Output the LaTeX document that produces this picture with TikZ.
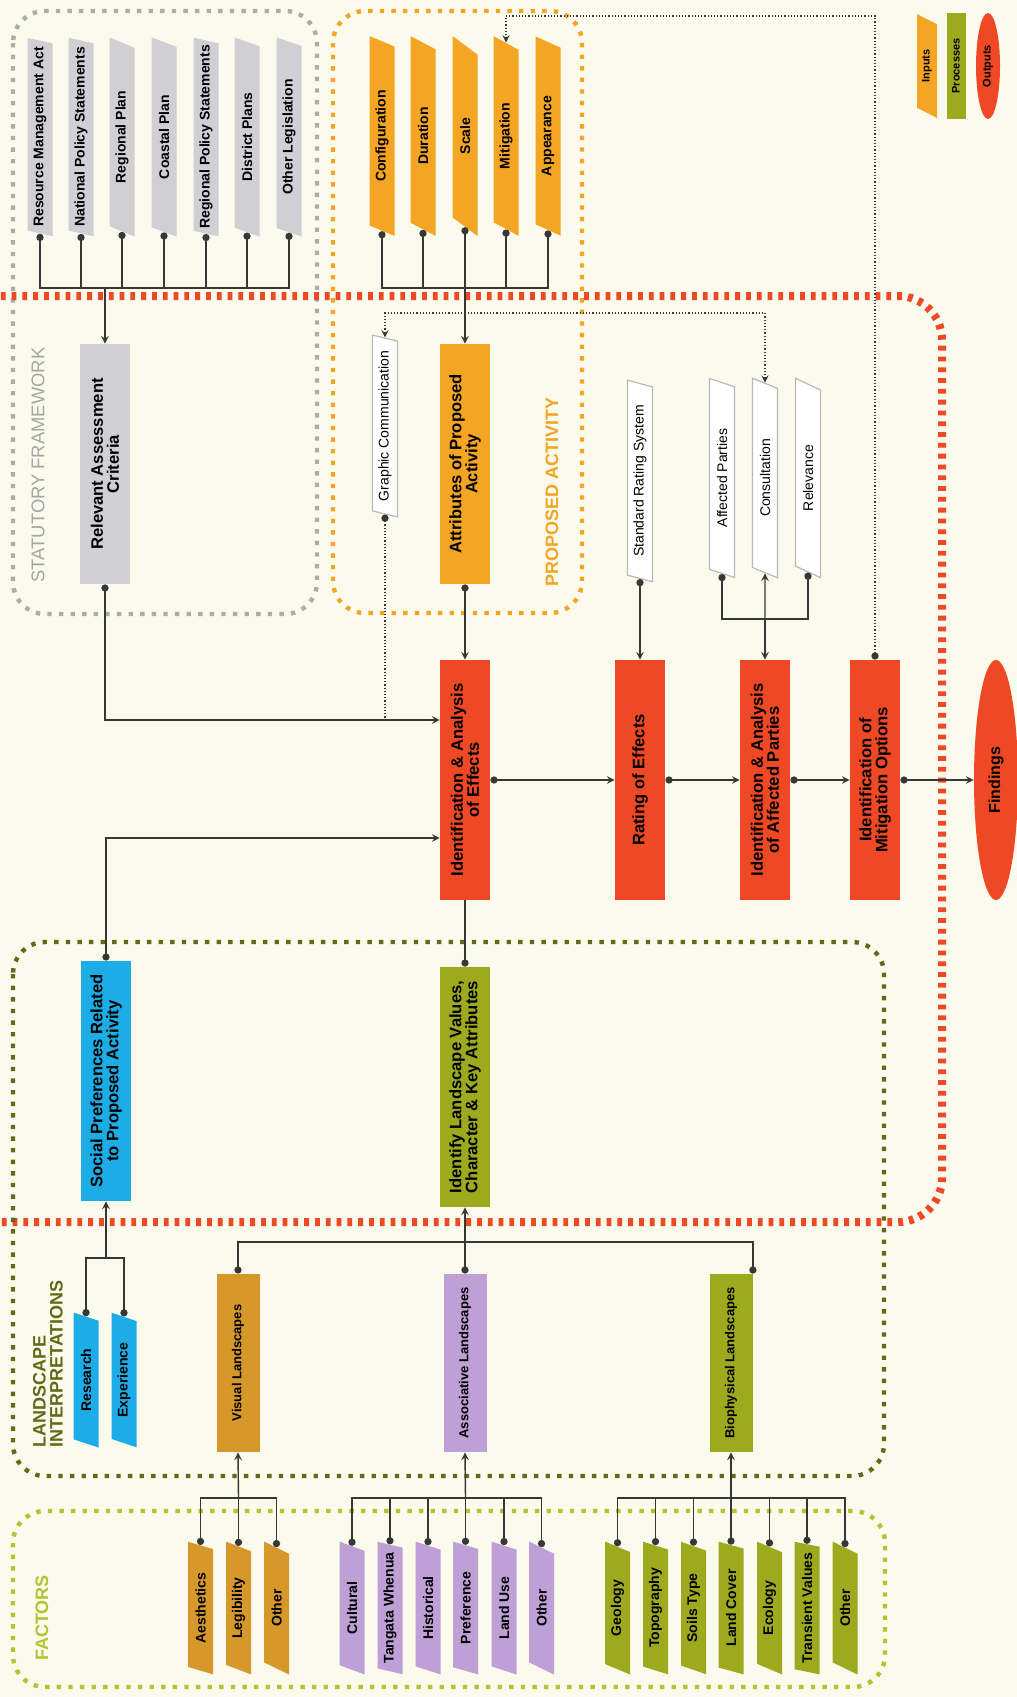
\documentclass[tikz,border=0pt]{standalone}
\usepackage{fontspec}
\setmainfont{Liberation Sans}
\usetikzlibrary{shapes.geometric,arrows.meta}
\definecolor{bgcream}{RGB}{250,250,237}
\definecolor{inorange}{RGB}{243,165,35}
\definecolor{procred}{RGB}{238,72,36}
\definecolor{sgray}{RGB}{208,208,212}
\definecolor{dotgray}{RGB}{172,172,176}
\definecolor{labgray}{RGB}{165,165,165}
\definecolor{skyblue}{RGB}{28,172,230}
\definecolor{olivegreen}{RGB}{158,170,30}
\definecolor{ochre}{RGB}{214,152,42}
\definecolor{lilac}{RGB}{190,160,214}
\definecolor{darkolive}{RGB}{100,105,25}
\definecolor{ygreen}{RGB}{180,195,50}
\definecolor{linegray}{RGB}{55,55,55}
\definecolor{outgray}{RGB}{185,185,185}

\begin{document}
\begin{tikzpicture}
[
x=0.5pt,y=-0.5pt,
inbox/.style={trapezium,trapezium left angle=72,trapezium right angle=108,trapezium stretches=true,
              rotate=90,minimum width=100pt,minimum height=12.5pt,inner sep=1pt,fill=#1,
              font=\fontsize{7}{8}\selectfont\bfseries},
textin/.style={inbox=white,draw=outgray,line width=0.6pt,font=\fontsize{7}{8}\selectfont},
procbox/.style={rectangle,rotate=90,minimum width=120pt,minimum height=25pt,inner sep=1pt,
                align=center,fill=#1,font=\fontsize{8.3}{8}\selectfont\bfseries},
landbox/.style={rectangle,rotate=90,minimum width=89pt,minimum height=21.5pt,inner sep=1pt,
                fill=#1,font=\fontsize{6.5}{8}\selectfont\bfseries},
outbox/.style={ellipse,rotate=90,fill=procred,inner sep=0pt,font=\fontsize{8}{9}\selectfont\bfseries},
grouplabel/.style={rotate=90,inner sep=0pt,text=#1,font=\fontsize{9}{8.5}\selectfont\bfseries},
feed/.style={draw=linegray,line width=0.7pt,{Circle[length=3.6pt]}-stealth},
bus/.style={draw=linegray,line width=0.7pt,{Circle[length=3.6pt]}-},
trunk/.style={draw=linegray,line width=0.7pt,-stealth},
hint/.style={draw=linegray,line width=0.6pt,densely dotted},
zone/.style={draw=#1,line width=2.2pt,dash pattern=on 2.2pt off 3.6pt,rounded corners=16pt},
]
\useasboundingbox (0,0) rectangle (1017,1697);
\fill[bgcream] (0,0) rectangle (1017,1697);

%Draw the frames
\draw[zone=dotgray] (13,11) rectangle (317,614);
\draw[zone=inorange] (333,11) rectangle (582,613);
\draw[draw=procred,line width=4pt,dash pattern=on 2.4pt off 3pt,rounded corners=22pt]
  (-10,296) -- (942,296) -- (942,1222) -- (-10,1222);
\draw[zone=darkolive] (13,942) rectangle (884,1476);
\draw[zone=ygreen] (13,1511) rectangle (885,1687);

%Place the nodes
\node[inbox=sgray] (rma) at (40,137) {Resource Management Act};
\node[inbox=sgray] (nps) at (81,137) {National Policy Statements};
\node[inbox=sgray] (rpl) at (122,137) {Regional Plan};
\node[inbox=sgray] (cpl) at (164,137) {Coastal Plan};
\node[inbox=sgray] (rps) at (206,137) {Regional Policy Statements};
\node[inbox=sgray] (dpl) at (247,137) {District Plans};
\node[inbox=sgray] (olg) at (289,137) {Other Legislation};

\node[inbox=inorange] (cfg) at (382,136) {Configuration};
\node[inbox=inorange] (dur) at (423,136) {Duration};
\node[inbox=inorange] (scl) at (465,136) {Scale};
\node[inbox=inorange] (mit) at (506,136) {Mitigation};
\node[inbox=inorange] (app) at (548,136) {Appearance};

\node[inbox=inorange,minimum width=52pt,minimum height=10pt,font=\fontsize{5.5}{6}\selectfont\bfseries] (kin) at (927,66) {Inputs};
\node[procbox=olivegreen,minimum width=53pt,minimum height=9.5pt,font=\fontsize{5.5}{6}\selectfont\bfseries] (kpr) at (956,66) {Processes};
\node[outbox,minimum width=53pt,minimum height=12pt,font=\fontsize{5.5}{6}\selectfont\bfseries] (kou) at (988,66) {Outputs};

\node[grouplabel=labgray,font=\fontsize{9.2}{10}\selectfont] (sfl) at (38,465) {STATUTORY FRAMEWORK};
\node[grouplabel=inorange] (pal) at (552,492) {PROPOSED ACTIVITY};
\node[grouplabel=darkolive,anchor=west,align=left] (lil) at (48,1448) {LANDSCAPE\\INTERPRETATIONS};
\node[grouplabel=ygreen] (fal) at (42,1618) {FACTORS};

\node[procbox=sgray] (rac) at (105,464) {Relevant Assessment\\Criteria};
\node[procbox=inorange] (apa) at (465,464) {Attributes of Proposed\\Activity};
\node[textin,minimum width=91pt] (gc) at (385,426) {Graphic Communication};
\node[textin,minimum width=101.5pt] (srs) at (640,481) {Standard Rating System};
\node[textin] (afp) at (722,478) {Affected Parties};
\node[textin] (con) at (765,478) {Consultation};
\node[textin] (rel) at (808,478) {Relevance};

\node[procbox=procred] (iae) at (465,780) {Identification \& Analysis\\of Effects};
\node[procbox=procred] (roe) at (640,780) {Rating of Effects};
\node[procbox=procred] (iap) at (765,780) {Identification \& Analysis\\of Affected Parties};
\node[procbox=procred] (imo) at (875,780) {Identification of\\Mitigation Options};
\node[outbox,minimum width=120pt,minimum height=22pt] (fnd) at (996,780) {Findings};

\node[procbox=skyblue] (spr) at (106,1081) {Social Preferences Related\\to Proposed Activity};
\node[procbox=olivegreen] (ilv) at (465,1087) {Identify Landscape Values,\\Character \& Key Attributes};

\node[inbox=skyblue,minimum width=67.5pt] (res) at (86,1380) {Research};
\node[inbox=skyblue,minimum width=67.5pt] (exp) at (124,1380) {Experience};

\node[landbox=ochre] (vis) at (238,1363) {Visual Landscapes};
\node[landbox=lilac] (asc) at (465,1363) {Associative Landscapes};
\node[landbox=olivegreen] (bio) at (731,1363) {Biophysical Landscapes};

\node[inbox=ochre,minimum width=66.5pt] (aes) at (200.5,1608) {Aesthetics};
\node[inbox=ochre,minimum width=66.5pt] (leg) at (238.5,1608) {Legibility};
\node[inbox=ochre,minimum width=66.5pt] (ot1) at (276.5,1608) {Other};

\node[inbox=lilac,minimum width=66.5pt] (cul) at (352,1608) {Cultural};
\node[inbox=lilac,minimum width=66.5pt] (tan) at (390,1608) {Tangata Whenua};
\node[inbox=lilac,minimum width=66.5pt] (his) at (428,1608) {Historical};
\node[inbox=lilac,minimum width=66.5pt] (pre) at (465.5,1608) {Preference};
\node[inbox=lilac,minimum width=66.5pt] (lus) at (504,1608) {Land Use};
\node[inbox=lilac,minimum width=66.5pt] (ot2) at (541.5,1608) {Other};

\node[inbox=olivegreen,minimum width=66.5pt] (geo) at (617.5,1608) {Geology};
\node[inbox=olivegreen,minimum width=66.5pt] (top) at (655.5,1608) {Topography};
\node[inbox=olivegreen,minimum width=66.5pt] (soi) at (693.5,1608) {Soils Type};
\node[inbox=olivegreen,minimum width=66.5pt] (lco) at (731,1608) {Land Cover};
\node[inbox=olivegreen,minimum width=66.5pt] (eco) at (769.5,1608) {Ecology};
\node[inbox=olivegreen,minimum width=66.5pt] (tra) at (807,1608) {Transient Values};
\node[inbox=olivegreen,minimum width=66.5pt] (ot3) at (845,1608) {Other};

%Draw the connections
\coordinate (sb) at (105,288);
\draw[bus] (rma.west) |- (sb);
\draw[bus] (nps.west) |- (sb);
\draw[bus] (rpl.west) |- (sb);
\draw[bus] (cpl.west) |- (sb);
\draw[bus] (rps.west) |- (sb);
\draw[bus] (dpl.west) |- (sb);
\draw[bus] (olg.west) |- (sb);
\draw[trunk] (sb) -- (rac.east);

\coordinate (pb) at (465,288);
\draw[bus] (cfg.west) |- (pb);
\draw[bus] (dur.west) |- (pb);
\draw[bus] (scl.west) |- (pb);
\draw[bus] (mit.west) |- (pb);
\draw[bus] (app.west) |- (pb);
\draw[trunk] (pb) -- (apa.east);

\coordinate (gt) at (385,313);
\coordinate (jr) at (385,720);
\draw[hint,stealth-stealth] (gc.east) -- (gt) -| (con.east);
\draw[hint,{Circle[length=3.6pt]}-] (gc.west) -- (jr);
\draw[feed] (rac.west) |- (iae.north |- jr);
\draw[feed] (apa.west) -- (iae.east);

\coordinate (js) at (105,838);
\draw[feed] (spr.east) |- (iae.north |- js);
\draw[bus] (ilv.east) -- (iae.west);

\draw[feed] (srs.west) -- (roe.east);
\coordinate (cb) at (765,619);
\draw[bus] (afp.west) |- (cb);
\draw[bus] (rel.west) |- (cb);
\draw[trunk] (cb) -- (con.west);
\draw[trunk] (cb) -- (iap.east);

\draw[feed] (iae.south) -- (roe.north);
\draw[feed] (roe.south) -- (iap.north);
\draw[feed] (iap.south) -- (imo.north);
\draw[feed] (imo.south) -- (fnd.north);

\coordinate (mt) at (875,16);
\draw[hint,{Circle[length=3.6pt]}-stealth] (imo.east) -- (mt) -| (mit.east);

\coordinate (rb) at (106,1258);
\draw[bus] (res.east) |- (rb);
\draw[bus] (exp.east) |- (rb);
\draw[trunk] (rb) -- (spr.west);

\coordinate (lb) at (465,1242);
\draw[draw=linegray,line width=0.7pt,{Circle[length=3.6pt]}-{Circle[length=3.6pt]}] (vis.east) |- (lb) -| (bio.south east);
\draw[feed] (asc.east) -- (ilv.west);

\coordinate (fa) at (238.5,1498);
\draw[bus] (aes.east) |- (fa);
\draw[bus] (leg.east) |- (fa);
\draw[bus] (ot1.east) |- (fa);
\draw[trunk] (fa) -- (vis.west);

\coordinate (fb) at (465.5,1498);
\draw[bus] (cul.east) |- (fb);
\draw[bus] (tan.east) |- (fb);
\draw[bus] (his.east) |- (fb);
\draw[bus] (pre.east) |- (fb);
\draw[bus] (lus.east) |- (fb);
\draw[bus] (ot2.east) |- (fb);
\draw[trunk] (fb) -- (asc.west);

\coordinate (fc) at (731,1498);
\draw[bus] (geo.east) |- (fc);
\draw[bus] (top.east) |- (fc);
\draw[bus] (soi.east) |- (fc);
\draw[bus] (lco.east) |- (fc);
\draw[bus] (eco.east) |- (fc);
\draw[bus] (tra.east) |- (fc);
\draw[bus] (ot3.east) |- (fc);
\draw[trunk] (fc) -- (bio.west);
\end{tikzpicture}
\end{document}
